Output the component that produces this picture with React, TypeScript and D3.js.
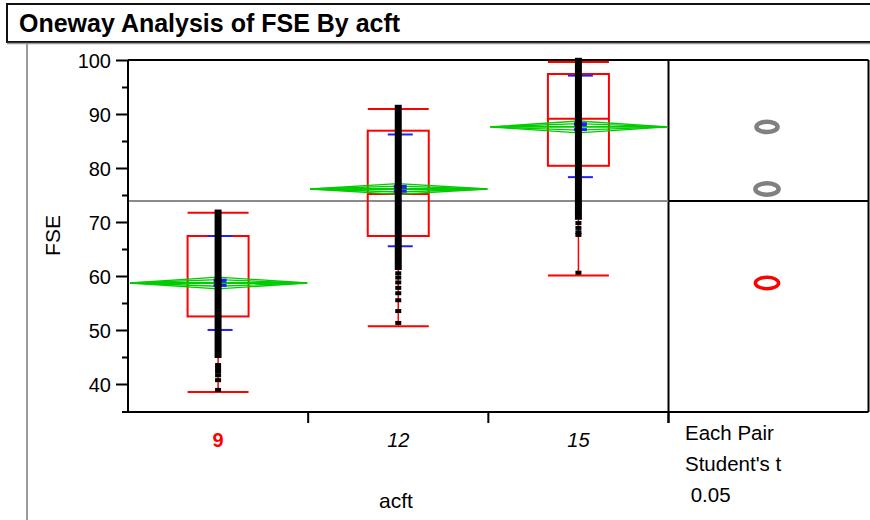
import React from "react";
import * as d3 from "d3";

// ---- data ----
const groups = ["9", "12", "15"];
const means = [58.8, 76.2, 87.7];
const ciHalf = [1.1, 1.0, 1.1];
const seHalf = [0.45, 0.4, 0.5];
const sdLow = [50.1, 65.6, 78.4];
const sdHigh = [67.5, 86.3, 97.2];
const q1 = [52.6, 67.5, 80.5];
const medians = [58.8, 75.3, 89.2];
const q3 = [67.5, 87.0, 97.5];
const whiskerLow = [38.6, 50.8, 60.2];
const whiskerHigh = [71.8, 91.0, 99.7];
const denseLow = [44.9, 61.2, 70.5];
const denseHigh = [72.4, 91.8, 100.5];
const sparse9 = [43.6, 43.0, 42.4, 41.7, 40.8, 39.0];
const sparse12 = [60.6, 59.8, 58.9, 57.9, 56.9, 55.6, 53.6, 51.4];
const sparse15 = [69.9, 69.0, 68.2, 67.7, 60.7];
const sparsePoints = [sparse9, sparse12, sparse15];
const grandMean = 74.0;
const circleRadius = [1.05, 1.05, 0.95];
const circleColors = ["#ff0000", "#808080", "#808080"];
const yTicks = [40, 50, 60, 70, 80, 90, 100];
const yMinorTicks = [45, 55, 65, 75, 85, 95];
const title = "Oneway Analysis of FSE By acft";
const yLabel = "FSE";
const xLabel = "acft";
const panelText = ["Each Pair", "Student's t", " 0.05"];

const FONT = "'Liberation Sans', Arial, sans-serif";

export default function App() {
  const W = 870, H = 520;
  const left = 128, right = 668.5, top = 60, bottom = 412;
  const panelRight = 868.5;
  const y = d3.scaleLinear().domain([35, 100]).range([411.5, 60.5]);
  const x = d3.scaleBand().domain(groups).range([left, right]).padding(0);
  const bw = x.bandwidth();
  const cx = (g: string) => (x(g) as number) + bw / 2;
  const panelCx = 767;
  const pxPerUnit = Math.abs(y(1) - y(0));

  return (
    <svg width={W} height={H} style={{ position: "absolute", left: 0, top: 0, background: "#fff" }} fontFamily={FONT}>
      {/* title box */}
      <path d={`M ${W + 10} 4 H 7 V 42 H ${W + 10}`} fill="#fff" stroke="#111" strokeWidth={2} />
      <line x1={7} x2={W} y1={43.5} y2={43.5} stroke="#9a9a9a" strokeWidth={1.5} />
      <text x={19} y={32} fontSize={25} fontWeight="bold" fill="#000">{title}</text>
      {/* outer gray frame */}
      <line x1={27} x2={27} y1={44} y2={H} stroke="#9a9a9a" strokeWidth={2} />

      {/* plot frame */}
      <line x1={left} x2={panelRight} y1={top} y2={top} stroke="#000" strokeWidth={2} />
      <line x1={left} x2={left} y1={top} y2={bottom} stroke="#000" strokeWidth={2} />
      <line x1={122} x2={right} y1={bottom} y2={bottom} stroke="#000" strokeWidth={2} />
      <line x1={right} x2={right} y1={top} y2={bottom} stroke="#000" strokeWidth={2} />

      {/* y ticks */}
      {yTicks.map((t) => (
        <g key={"yt" + t}>
          <line x1={116} x2={left} y1={y(t)} y2={y(t)} stroke="#000" strokeWidth={2} />
          <text x={111} y={y(t)} dy="0.36em" textAnchor="end" fontSize={20}>{t}</text>
        </g>
      ))}
      {yMinorTicks.map((t) => (
        <line key={"ym" + t} x1={122} x2={left} y1={y(t)} y2={y(t)} stroke="#000" strokeWidth={2} />
      ))}
      <text transform={`translate(60,${y(70) + 13}) rotate(-90)`} textAnchor="middle" fontSize={21}>{yLabel}</text>

      {/* x ticks */}
      {groups.map((g) => (
        <line key={"xt" + g} x1={(x(g) as number) + bw} x2={(x(g) as number) + bw} y1={bottom} y2={423} stroke="#000" strokeWidth={2} />
      ))}
      {groups.map((g, i) => (
        <text key={"xl" + g} x={cx(g)} y={447} textAnchor="middle" fontSize={20}
          fill={i === 0 ? "#ff0000" : "#000"} fontWeight={i === 0 ? "bold" : "normal"} fontStyle={i === 0 ? "normal" : "italic"}>{g}</text>
      ))}
      <text x={396} y={508} textAnchor="middle" fontSize={21}>{xLabel}</text>

      {/* grand mean */}
      <line x1={left + 1} x2={right} y1={y(grandMean)} y2={y(grandMean)} stroke="#8a8a8a" strokeWidth={2} />

      {groups.map((g, i) => {
        const c = cx(g);
        const x0 = x(g) as number;
        const x1 = x0 + bw;
        const hw = 30.5;
        const m = means[i];
        const ci = ciHalf[i];
        const diamond = `${x0 + 2},${y(m)} ${c},${y(m + ci)} ${x1 - 1},${y(m)} ${c},${y(m - ci)}`;
        const inner = `${x0 + 2},${y(m)} ${c},${y(m + ci * 0.55)} ${x1 - 1},${y(m)} ${c},${y(m - ci * 0.55)}`;
        const bc = c + 2;
        return (
          <g key={"grp" + g}>
            {/* whiskers */}
            <line x1={c} x2={c} y1={y(whiskerHigh[i])} y2={y(whiskerLow[i])} stroke="#ff0000" strokeWidth={1.5} />
            <line x1={c - hw} x2={c + hw} y1={y(whiskerHigh[i])} y2={y(whiskerHigh[i])} stroke="#ff0000" strokeWidth={2} />
            <line x1={c - hw} x2={c + hw} y1={y(whiskerLow[i])} y2={y(whiskerLow[i])} stroke="#ff0000" strokeWidth={2} />
            {/* box */}
            <rect x={c - hw} y={y(q3[i])} width={hw * 2} height={y(q1[i]) - y(q3[i])} fill="none" stroke="#ff0000" strokeWidth={2} />
            <line x1={c - hw} x2={c + hw} y1={y(medians[i])} y2={y(medians[i])} stroke="#ff0000" strokeWidth={2} />
            {/* means diamond */}
            <polygon points={diamond} fill="none" stroke="#00cc00" strokeWidth={1.3} />
            <polygon points={inner} fill="none" stroke="#00cc00" strokeWidth={1.3} />
            <line x1={x0 + 2} x2={x1 - 1} y1={y(m)} y2={y(m)} stroke="#00cc00" strokeWidth={1.8} />
            {/* std dev lines */}
            <line x1={bc - 12.5} x2={bc + 12.5} y1={y(sdHigh[i])} y2={y(sdHigh[i])} stroke="#2020ff" strokeWidth={2} />
            <line x1={bc - 12.5} x2={bc + 12.5} y1={y(sdLow[i])} y2={y(sdLow[i])} stroke="#2020ff" strokeWidth={2} />
            {/* mean error bars */}
            <rect x={bc - 6.5} y={y(m + seHalf[i]) - 2} width={13} height={4} fill="#2020ff" />
            <rect x={bc - 6.5} y={y(m - seHalf[i]) - 1.5} width={13} height={3} fill="#2020ff" />
            {/* points */}
            <rect x={c - 3.5} y={y(denseHigh[i])} width={7} height={y(denseLow[i]) - y(denseHigh[i])} fill="#000" />
            {sparsePoints[i].map((v, k) => (
              <rect key={"p" + k} x={c - 3} y={y(v) - 2} width={6} height={4} fill="#000" />
            ))}
          </g>
        );
      })}

      {/* comparison circles panel */}
      <line x1={panelRight} x2={panelRight} y1={top} y2={bottom} stroke="#000" strokeWidth={2} />
      <line x1={right} x2={panelRight} y1={bottom} y2={bottom} stroke="#000" strokeWidth={2} />
      <line x1={right} x2={panelRight} y1={y(grandMean)} y2={y(grandMean)} stroke="#000" strokeWidth={2} />
      {groups.map((g, i) => (
        <ellipse key={"c" + g} cx={panelCx} cy={y(means[i])} rx={circleRadius[i] * pxPerUnit * 2.05} ry={circleRadius[i] * pxPerUnit}
          fill="none" stroke={circleColors[i]} strokeWidth={i === 0 ? 3.5 : 4.5} />
      ))}
      <line x1={right} x2={right} y1={bottom} y2={423} stroke="#000" strokeWidth={2} />
      {panelText.map((t, i) => (
        <text key={"pt" + i} x={685} y={440 + i * 31} fontSize={20.5} style={{ whiteSpace: "pre" }}>{t}</text>
      ))}
    </svg>
  );
}
